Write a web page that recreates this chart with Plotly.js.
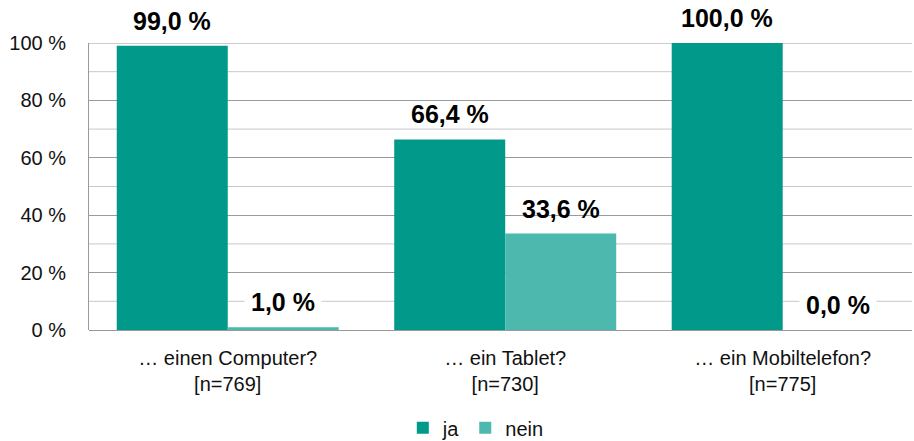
<!DOCTYPE html>
<html>
<head>
<meta charset="utf-8">
<script src="https://cdn.plot.ly/plotly-3.0.1.min.js"></script>
<style>html,body{margin:0;padding:0;background:#fff;}#chart{width:914px;height:441px;}</style>
</head>
<body>
<div id="chart"></div>
<script>
const categories = ["… einen Computer?<br>[n=769]", "… ein Tablet?<br>[n=730]", "… ein Mobiltelefon?<br>[n=775]"];
const jaValues = [99.0, 66.4, 100.0];
const neinValues = [1.0, 33.6, 0.0];
const seriesNames = ["ja", "nein"];
const colors = ["#00998A", "#4DB8AD"];
const minorGrid = [10, 30, 50, 70, 90];

function fmt(v) { return v.toFixed(1).replace(".", ",") + " %"; }

const traces = [
  {type: "bar", name: seriesNames[0], x: categories, y: jaValues, marker: {color: colors[0]}, hoverinfo: "skip"},
  {type: "bar", name: seriesNames[1], x: categories, y: neinValues, marker: {color: colors[1]}, hoverinfo: "skip"}
];

const annotations = [];
[jaValues, neinValues].forEach((vals, s) => {
  vals.forEach((v, i) => {
    const small = v < 5;
    annotations.push({
      x: i + (s === 0 ? -0.2 : 0.2), xref: "x",
      y: v, yref: "y",
      text: "<b>" + fmt(v) + "</b>",
      showarrow: false,
      yanchor: "middle",
      yshift: 25,
      font: {family: "Liberation Sans, Arial, sans-serif", size: 25, color: "#000"},
      bgcolor: small ? "#ffffff" : "rgba(0,0,0,0)",
      borderpad: small ? 6 : 0
    });
  });
});

const shapes = minorGrid.map(g => ({
  type: "line", xref: "paper", yref: "y", x0: 0, x1: 1, y0: g, y1: g,
  line: {color: "#C8C8C8", width: 1}, layer: "below"
}));
shapes.push({type: "line", xref: "paper", yref: "y", x0: 0, x1: 1, y0: 100, y1: 100,
  line: {color: "#9A9A9A", width: 1}, layer: "below"});

const layout = {
  width: 914, height: 441,
  margin: {l: 89, r: 2, t: 43, b: 111, autoexpand: false},
  paper_bgcolor: "#fff", plot_bgcolor: "#fff",
  font: {family: "Liberation Sans, Arial, sans-serif", size: 20, color: "#111"},
  barmode: "group", bargap: 0.2, bargroupgap: 0,
  showlegend: true,
  legend: {orientation: "h", x: 0.47, xanchor: "center", yref: "container", y: 0.03, yanchor: "middle",
           font: {size: 20, color: "#111"}, itemwidth: 30, traceorder: "normal"},
  xaxis: {
    type: "category", range: [-0.5, 2.466], showgrid: false, zeroline: false,
    showline: false, ticks: "", ticklabelstandoff: 14,
    tickfont: {size: 20, color: "#111"}, fixedrange: true, automargin: false
  },
  yaxis: {
    range: [0, 100], tickmode: "linear", tick0: 0, dtick: 20, ticksuffix: " %",
    showgrid: true, gridcolor: "#9A9A9A", gridwidth: 1,
    showline: true, linecolor: "#9A9A9A", linewidth: 1,
    zeroline: true, zerolinecolor: "#9A9A9A",
    ticks: "outside", ticklen: 18, tickcolor: "rgba(0,0,0,0)",
    tickfont: {size: 20, color: "#111"}, fixedrange: true, automargin: false
  },
  shapes: shapes,
  annotations: annotations
};

Plotly.newPlot("chart", traces, layout, {displayModeBar: false, staticPlot: true});
</script>
</body>
</html>
